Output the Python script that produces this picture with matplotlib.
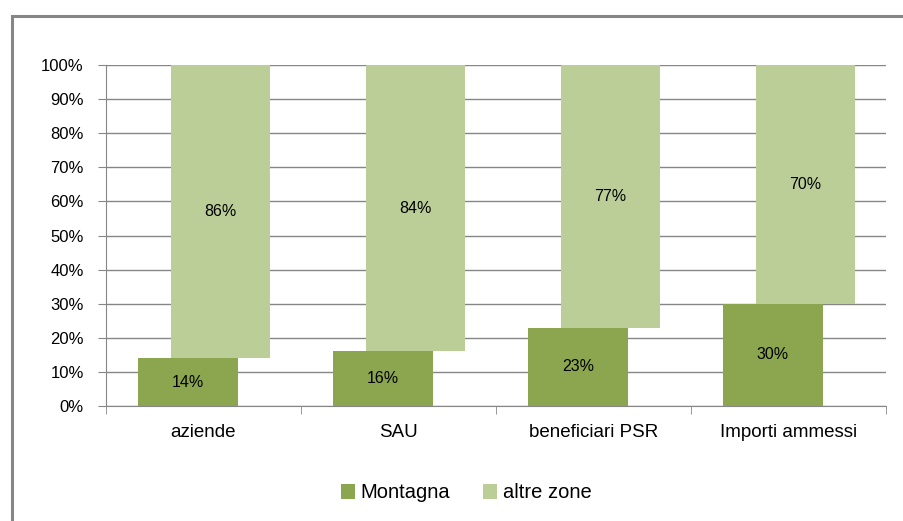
import matplotlib.pyplot as plt
import numpy as np
from matplotlib.lines import Line2D

categories = ['aziende', 'SAU', 'beneficiari PSR', 'Importi ammessi']
montagna = [14, 16, 23, 30]
altre_zone = [86, 84, 77, 70]
yticks = [0, 10, 20, 30, 40, 50, 60, 70, 80, 90, 100]

c_mont = '#8BA64E'
c_altre = '#BBCE97'
grey = '#868686'

plt.rcParams['font.family'] = ['Liberation Sans', 'DejaVu Sans']

fig = plt.figure(figsize=(9.04, 5.21), dpi=100)
W, H = 904, 521
ax = fig.add_axes([106 / W, 1 - 406 / H, (886 - 106) / W, (406 - 65) / H])

x = np.arange(len(categories))
bw = 0.51
b1 = ax.bar(x - 0.08, montagna, bw, color=c_mont, label='Montagna', zorder=3)
b2 = ax.bar(x + 0.087, altre_zone, bw, bottom=montagna, color=c_altre,
            label='altre zone', zorder=3)

for i in range(len(categories)):
    ax.text(x[i] - 0.08, montagna[i] / 2, f'{montagna[i]}%', ha='center',
            va='center', fontsize=11.5, zorder=4)
    ax.text(x[i] + 0.087, montagna[i] + altre_zone[i] / 2, f'{altre_zone[i]}%',
            ha='center', va='center', fontsize=11.5, zorder=4)

ax.set_xlim(-0.5, len(categories) - 0.5)
ax.set_ylim(0, 100)
ax.set_yticks(yticks)
ax.set_yticklabels([f'{v}%' for v in yticks], fontsize=12)
ax.yaxis.grid(True, color=grey, linewidth=1, zorder=0)

ax.set_xticks(x)
ax.set_xticklabels(categories, fontsize=13.5)
ax.set_xticks(np.arange(len(categories) + 1) - 0.5, minor=True)
ax.tick_params(axis='x', which='major', length=0, pad=13)
ax.tick_params(axis='x', which='minor', length=6, color=grey, direction='out')
ax.tick_params(axis='y', length=6, color=grey, pad=10)

for s in ['top', 'right']:
    ax.spines[s].set_visible(False)
ax.spines['left'].set_color(grey)
ax.spines['bottom'].set_color(grey)

# outer frame, cropped on the right and bottom
fx, fy = 11.5 / W, 1 - 15.5 / H
fig.add_artist(Line2D([fx, fx, 1.1], [-0.1, fy, fy], transform=fig.transFigure,
                      color=grey, linewidth=2.2, solid_joinstyle='miter'))

fig.legend(handles=[b1, b2], labels=['Montagna', 'altre zone'],
           loc='center', bbox_to_anchor=(466 / W, 1 - 493 / H), ncol=2,
           frameon=False, fontsize=14.5, handlelength=0.7, handleheight=0.7,
           handletextpad=0.3, columnspacing=1.6)

fig.savefig('out.png', dpi=100)
